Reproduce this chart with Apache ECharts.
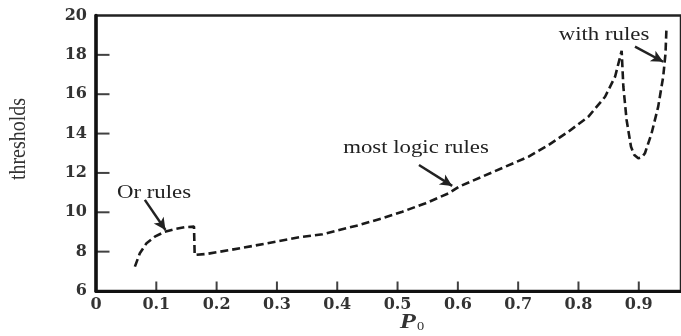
<!DOCTYPE html>
<html>
<head>
<meta charset="utf-8">
<script src="https://cdn.jsdelivr.net/npm/echarts@6/dist/echarts.min.js"></script>
<style>html,body{margin:0;padding:0;background:#fff}#c{width:681px;height:336px}</style>
</head>
<body>
<div id="c"></div>
<script>
// P0 values (x) and thresholds (y)
var xValues = [0.0645,0.0727,0.0838,0.0975,0.114,0.1306,0.1471,0.1625,0.1636,0.183,0.2215,0.26,0.2987,0.3372,0.3757,0.4033,0.4364,0.4749,0.508,0.5466,0.5851,0.6017,0.6402,0.6788,0.7174,0.7504,0.7835,0.8165,0.8441,0.8607,0.8716,0.8744,0.8798,0.8871,0.8926,0.8992,0.9058,0.9102,0.9212,0.9322,0.9405,0.9443,0.946];
var yValues = [7.24,7.92,8.43,8.76,9.01,9.15,9.24,9.27,7.83,7.88,8.08,8.29,8.51,8.73,8.88,9.10,9.35,9.70,10.03,10.46,10.97,11.30,11.81,12.32,12.83,13.42,14.10,14.86,15.87,16.89,18.20,16.38,14.69,13.33,12.91,12.74,12.81,13.00,14.01,15.37,16.89,18.08,19.43];
var yTicks = [6,8,10,12,14,16,18,20];
var xTicks = [0,0.1,0.2,0.3,0.4,0.5,0.6,0.7,0.8,0.9];
var xTickLabels = ['0','0.1','0.2','0.3','0.4','0.5','0.6','0.7','0.8','0.9'];
// annotation arrows (data coords): start -> tip
var arrowFrom = [[0.081,10.63],[0.5355,12.40],[0.8937,18.42]];
var arrowTo   = [[0.1152,9.10],[0.5906,11.34],[0.9405,17.65]];
var annotationTexts = ['Or rules','most logic rules','with rules'];

var X_MIN = 0, X_MAX = 0.97, Y_MIN = yTicks[0], Y_MAX = yTicks[yTicks.length-1];
var seriesData = xValues.map(function(x,i){return [x,yValues[i]];});
var markData = arrowFrom.map(function(f,i){return [{coord:f},{coord:arrowTo[i]}];});
// inward tick marks placed through the axes' scales
var xTickMarks = xTicks.slice(1).map(function(v){return [v, Y_MIN];});
var yTickMarks = yTicks.slice(1,-1).map(function(v){return [X_MIN, v];});

var chart = echarts.init(document.getElementById('c'));
var serif = '"Liberation Serif","Times New Roman",serif';
var annPos = [[154,193],[416,148],[604,35]];
var graphics = annotationTexts.map(function(t,i){
  return {type:'text', x:annPos[i][0], y:annPos[i][1], scaleX:1.2,
    style:{text:t, x:0, y:0, textAlign:'center', textVerticalAlign:'middle',
      font:'19px '+serif, fill:'#222'}};
});
graphics.push({type:'text', x:19, y:139, rotation:Math.PI/2, scaleY:1.2,
  style:{text:'thresholds', x:0, y:0, textAlign:'center', textVerticalAlign:'middle',
    font:'20px '+serif, fill:'#333'}});
graphics.push({type:'text', x:412, y:322, scaleX:1.2,
  style:{text:'{p|P}{s|0}', x:0, y:0, textAlign:'center', textVerticalAlign:'middle',
    rich:{p:{fontFamily:serif, fontStyle:'italic', fontWeight:'bold', fontSize:22, fill:'#333', color:'#333'},
          s:{fontFamily:serif, fontSize:12, fill:'#333', color:'#333', verticalAlign:'bottom', padding:[8,0,0,1]}}}});

chart.setOption({
  animation:false,
  backgroundColor:'#fff',
  grid:{left:96, right:-2, top:15.5, bottom:45, show:true, borderColor:'#222', borderWidth:2.5, backgroundColor:'transparent'},
  xAxis:{
    type:'value', min:X_MIN, max:X_MAX, interval:0.1,
    axisLine:{show:true, onZero:false, lineStyle:{color:'#111', width:3}},
    axisTick:{show:false},
    axisLabel:{margin:6, showMaxLabel:false, color:'#333',
      fontFamily:'"DejaVu Serif",serif', fontWeight:'bold', fontSize:16,
      formatter:function(v){var k=Math.round(v*10); return Math.abs(v*10-k)<1e-6 && k<xTickLabels.length ? xTickLabels[k] : '';}},
    splitLine:{show:false}
  },
  yAxis:{
    type:'value', min:Y_MIN, max:Y_MAX, interval:2,
    axisLine:{show:true, onZero:false, lineStyle:{color:'#111', width:3.5}},
    axisTick:{show:false},
    axisLabel:{margin:9, color:'#333', fontFamily:'"DejaVu Serif",serif', fontWeight:'bold', fontSize:16},
    splitLine:{show:false}
  },
  graphic:graphics,
  series:[{
    type:'line', data:seriesData, showSymbol:false, smooth:false,
    lineStyle:{color:'#1a1a1a', width:2.6, type:[8,4]},
    markLine:{silent:true, symbol:['none','arrow'], symbolSize:[9,12],
      label:{show:false}, lineStyle:{type:'solid', color:'#222', width:2.5},
      emphasis:{disabled:true}, data:markData}
  },{
    type:'scatter', data:xTickMarks, clip:false, silent:true, z:5,
    symbol:'rect', symbolSize:[2,9], symbolOffset:[0,-5],
    itemStyle:{color:'#111'}, emphasis:{disabled:true}
  },{
    type:'scatter', data:yTickMarks, clip:false, silent:true, z:5,
    symbol:'rect', symbolSize:[13,2], symbolOffset:[7,0],
    itemStyle:{color:'#111'}, emphasis:{disabled:true}
  }]
});
</script>
</body>
</html>
